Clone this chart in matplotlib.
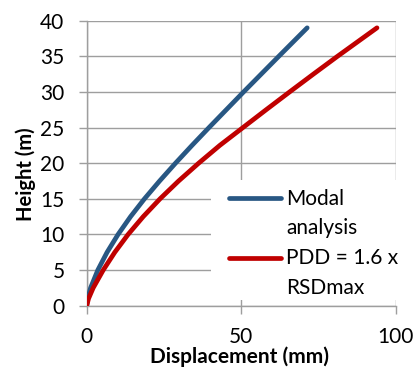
import matplotlib
matplotlib.use("Agg")
import matplotlib.pyplot as plt
from matplotlib.patches import Rectangle
from matplotlib.lines import Line2D

height_m = [0, 1, 2.5, 5, 7.5, 10, 12.5, 15, 17.5, 20, 22.5, 25, 27.5, 30, 32.5, 35, 39]
modal_mm = [0, 0.35, 1.25, 3.6, 6.6, 10.15, 14.2, 18.7, 23.6, 28.75, 34.1, 39.6, 45.2, 50.8, 56.5, 62.2, 71.4]
pdd_mm = [0, 0.6, 2.1, 5.35, 9.1, 13.4, 18.3, 23.75, 29.75, 36.25, 43.1, 50.6, 58.1, 65.7, 73.4, 81.2, 94.0]
labels = ["Modal\nanalysis", "PDD = 1.6 x\nRSDmax"]
colors = ["#285783", "#C00000"]

plt.rcParams['font.family'] = ['Lato', 'DejaVu Sans']
W, H = 415, 368
fig = plt.figure(figsize=(W/100, H/100), dpi=100)
ax = fig.add_axes([86.7/W, 1-305.7/H, (395.5-86.7)/W, (305.7-20.7)/H])

ax.plot(modal_mm, height_m, color=colors[0], lw=3.4, solid_capstyle='round',
        solid_joinstyle='round', zorder=4)
ax.plot(pdd_mm, height_m, color=colors[1], lw=3.4, solid_capstyle='round',
        solid_joinstyle='round', zorder=4)

ax.set_xlim(0, 100)
ax.set_ylim(0, 40)
ax.set_xticks([0, 50, 100])
ax.set_yticks(range(0, 41, 5))
gc = '#9e9e9e'
ax.grid(True, color=gc, lw=1.0)
ax.set_axisbelow(True)
for s in ['top', 'right']:
    ax.spines[s].set_visible(False)
for s in ['left', 'bottom']:
    ax.spines[s].set_color(gc)
    ax.spines[s].set_linewidth(1.0)
ax.tick_params(axis='both', colors=gc, length=6, width=1.0, labelcolor='black', labelsize=15)
ax.tick_params(axis='x', pad=9)
ax.tick_params(axis='y', pad=10)

ax.set_xlabel("Displacement (mm)", fontsize=15, fontweight='bold', va='center')
ax.set_ylabel("Height (m)", fontsize=14.5, fontweight='bold', va='center')
ax.xaxis.set_label_coords((239.5-86.7)/(395.5-86.7), -(356.5-305.7)/285)
ax.yaxis.set_label_coords(-(86.7-26)/(395.5-86.7), (305.7-174.5)/285)

# legend box
fx = lambda px: px / W
fy = lambda py: 1 - py / H
rect = Rectangle((fx(211), fy(300)), fx(415) - fx(211), fy(180) - fy(300),
                 transform=fig.transFigure, facecolor='white', edgecolor='none',
                 clip_on=False, zorder=3)
ax.add_patch(rect)
for i, (lab, c) in enumerate(zip(labels, colors)):
    yl = 197.5 + i * 60
    ln = Line2D([fx(229), fx(281)], [fy(yl), fy(yl)], transform=fig.transFigure,
                color=c, lw=3.4, solid_capstyle='round', zorder=5)
    fig.add_artist(ln)
    first, second = lab.split("\n")
    fig.text(fx(286), fy(yl + 7), first, fontsize=15, va='baseline', ha='left')
    fig.text(fx(286), fy(yl + 36.5), second, fontsize=15, va='baseline', ha='left')

fig.savefig("out.png", dpi=100)
